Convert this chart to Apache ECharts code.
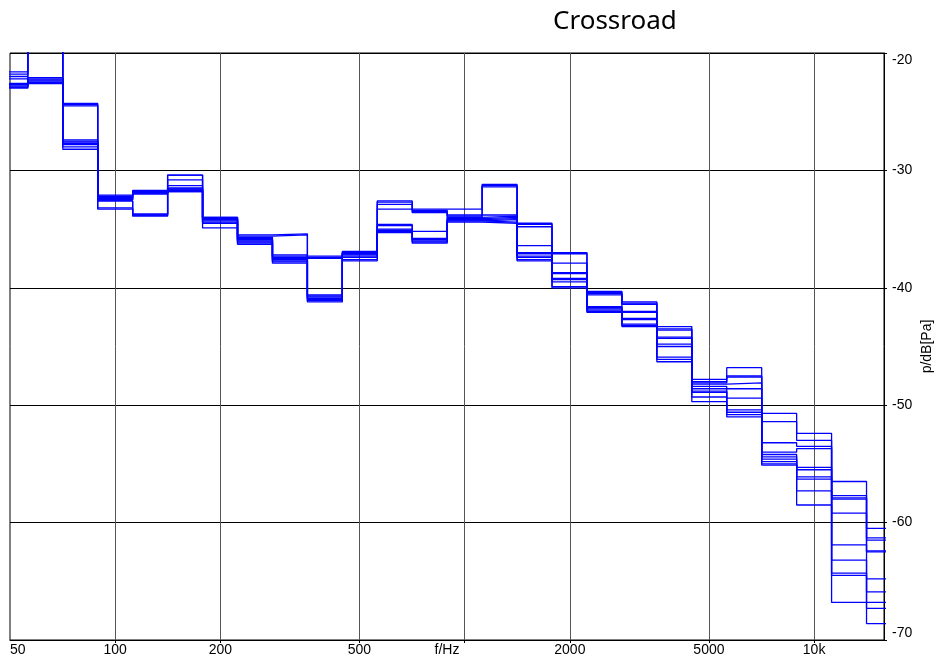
<!DOCTYPE html>
<html><head><meta charset="utf-8">
<script src="https://cdn.jsdelivr.net/npm/echarts@6/dist/echarts.min.js"></script>
<style>html,body{margin:0;padding:0;background:#fff}#c{width:938px;height:663px}</style>
</head><body><div id="c"></div>
<script>
// Third-octave band centre frequencies (Hz)
const bandCenters = [50,63,80,100,125,160,200,250,315,400,500,630,800,1000,1250,1600,2000,2500,3150,4000,5000,6300,8000,10000,12500,16000];
// Band levels (dB re Pa) of the individual measurements
const s1  = [-21.6,-18.5,-24.3,-32.1,-31.7,-30.4,-34.0,-35.5,-35.4,-37.3,-36.9,-32.6,-33.3,-33.3,-31.2,-34.5,-37.0,-40.3,-41.2,-43.3,-47.8,-46.8,-50.7,-52.4,-56.5,-60.5];
const s2  = [-21.8,-18.8,-24.4,-32.2,-31.8,-30.4,-34.0,-35.6,-35.5,-37.4,-37.0,-32.7,-33.4,-33.8,-31.3,-34.6,-37.1,-40.4,-41.3,-43.5,-48.0,-47.5,-51.4,-53.0,-57.7,-61.3];
const s3  = [-22.0,-19.0,-24.5,-32.3,-31.9,-30.8,-34.1,-35.7,-37.2,-37.5,-37.0,-32.9,-33.5,-33.9,-31.4,-34.8,-37.9,-40.5,-41.4,-43.6,-48.1,-47.6,-53.2,-53.5,-57.9,-61.5];
const s4  = [-22.2,-19.3,-27.4,-32.4,-31.9,-31.3,-34.1,-35.8,-37.3,-40.6,-37.1,-33.3,-33.6,-34.0,-33.8,-36.4,-38.7,-40.6,-42.0,-44.2,-48.2,-48.1,-54.0,-53.7,-58.0,-62.4];
const s5  = [-22.6,-22.1,-27.5,-32.5,-32.0,-31.5,-34.2,-35.9,-37.4,-40.7,-37.1,-34.6,-35.2,-34.0,-33.9,-37.0,-38.8,-41.6,-42.1,-44.3,-48.4,-48.6,-54.2,-55.3,-59.2,-62.5];
const s6  = [-22.7,-22.2,-27.6,-32.5,-32.0,-31.6,-34.2,-35.9,-37.5,-40.8,-37.2,-34.7,-35.8,-34.1,-34.0,-37.1,-39.2,-41.7,-42.6,-44.8,-48.6,-49.4,-54.4,-55.5,-61.9,-64.8];
const s7  = [-22.8,-22.3,-27.7,-32.6,-33.7,-31.6,-34.3,-36.0,-37.6,-40.9,-37.3,-35.0,-35.9,-34.2,-34.1,-37.3,-39.3,-41.8,-42.7,-45.0,-48.8,-50.4,-54.6,-56.1,-63.2,-65.9];
const s8  = [-22.9,-22.4,-27.8,-32.6,-33.8,-31.7,-34.4,-36.1,-37.7,-41.0,-37.4,-35.1,-36.0,-34.3,-34.2,-37.4,-39.5,-41.9,-43.1,-45.9,-48.9,-50.6,-54.8,-56.3,-64.3,-66.8];
const s9  = [-22.9,-22.5,-28.0,-33.2,-33.8,-31.8,-34.5,-36.2,-37.8,-41.1,-37.6,-35.2,-36.1,-34.3,-34.4,-37.6,-39.9,-42.0,-43.2,-46.1,-49.3,-50.8,-55.0,-57.3,-64.5,-67.3];
const s10 = [-23.0,-22.6,-28.2,-33.3,-33.9,-31.8,-34.9,-36.3,-37.9,-41.2,-37.7,-35.3,-36.2,-34.4,-34.5,-37.7,-40.0,-42.1,-43.3,-46.3,-49.7,-51.0,-55.1,-58.5,-66.8,-68.6];
const allSeries = [s1,s2,s3,s4,s5,s6,s7,s8,s9,s10];
// Axis ticks
const xLabelFreqs = [50,100,200,500,2000,5000,10000];
const xGridFreqs = [100,200,500,1000,2000,5000,10000];
const fMin = 50, fMax = 15849;

const lg = Math.log10;
// Each band: level held from the band's lower edge to the next band's lower edge (step 'end')
function stepData(vals){
  const pts = [];
  bandCenters.forEach((fc,i)=>{
    const n = Math.round(10*lg(fc));
    pts.push([(n-0.5)/10, vals[i]]);
    if (i === bandCenters.length-1) pts.push([(n+0.5)/10, vals[i]]);
  });
  return pts;
}
const fontFam = '"Liberation Sans", Arial, sans-serif';
const chart = echarts.init(document.getElementById('c'), null, {renderer:'canvas'});
chart.setOption({
  animation:false,
  backgroundColor:'#fff',
  title:{text:'Crossroad', left:548, top:4,
    textStyle:{fontSize:26, fontWeight:'normal', color:'#000', fontFamily:'"Noto Sans", sans-serif'}},
  grid:{left:10, right:54, top:53, bottom:23, show:true, borderColor:'#000', borderWidth:1,
    backgroundColor:'transparent', containLabel:false, outerBoundsMode:'none'},
  xAxis:{type:'value', min:lg(fMin), max:lg(fMax),
    name:'f/Hz', nameLocation:'middle', nameGap:3, nameMoveOverlap:false,
    nameTextStyle:{fontSize:14, color:'#000', fontFamily:fontFam, verticalAlign:'top'},
    axisLine:{show:true, lineStyle:{color:'#000', width:1}},
    axisTick:{show:true, length:3, customValues:xGridFreqs.map(lg), lineStyle:{color:'#000'}},
    axisLabel:{customValues:xLabelFreqs.map(lg), margin:3, fontSize:14, color:'#000', fontFamily:fontFam,
      alignMinLabel:'left',
      formatter:v=>{const f=Math.round(Math.pow(10,v)); return f>=10000?(f/1000)+'k':String(f);}},
    splitLine:{show:true, lineStyle:{color:'#555', width:1}}
  },
  yAxis:{type:'value', position:'right', min:-70, max:-20, interval:10,
    name:'p/dB[Pa]', nameLocation:'middle', nameRotate:90, nameGap:36, nameMoveOverlap:false,
    nameTextStyle:{fontSize:14, color:'#000', fontFamily:fontFam},
    axisLine:{show:true, lineStyle:{color:'#000', width:1}},
    axisTick:{show:true, length:3, lineStyle:{color:'#000'}},
    axisLabel:{margin:8, fontSize:14, color:'#000', fontFamily:fontFam, align:'left',
      verticalAlignMinLabel:'bottom', verticalAlignMaxLabel:'top'},
    splitLine:{show:true, lineStyle:{color:'#000', width:1}}
  },
  series: allSeries.map((vals,k)=>({
    type:'line', name:'m'+(k+1), data:stepData(vals), step:'end', showSymbol:false, symbol:'none',
    clip:true, lineStyle:{color:'#0000ff', width:1.3}, z:3
  }))
});
</script></body></html>
